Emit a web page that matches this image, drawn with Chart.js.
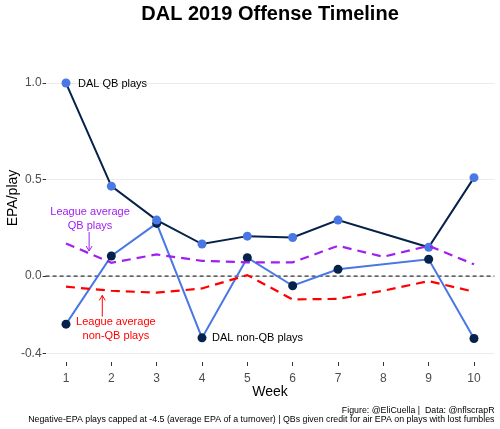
<!DOCTYPE html>
<html>
<head>
<meta charset="utf-8">
<script src="https://cdn.jsdelivr.net/npm/chart.js@4.4.1/dist/chart.umd.min.js"></script>
<style>
  html, body { margin: 0; padding: 0; background: #fff; }
</style>
</head>
<body>
<canvas id="chart" width="500" height="429"></canvas>
<script>
// weekly EPA/play, week 8 was the bye
const weeks = [1, 2, 3, 4, 5, 6, 7, 8, 9, 10];
const dalQB = [1.0, 0.466, 0.29, 0.166, 0.207, 0.20, 0.29, null, 0.149, 0.51];
const dalNonQB = [-0.249, 0.104, 0.273, -0.32, 0.095, -0.05, 0.035, null, 0.087, -0.323];
const leagueQB = [0.169, 0.069, 0.112, 0.079, 0.071, 0.071, 0.157, 0.10, 0.157, 0.061];
const leagueNonQB = [-0.055, -0.076, -0.086, -0.064, 0.005, -0.121, -0.118, -0.076, -0.026, -0.081];
const yTicks = [-0.4, 0, 0.5, 1.0];

const FONT = "'Liberation Sans', Arial, Helvetica, sans-serif";
const NAVY = '#06214a';
const BLUE = '#4a77e6';
const PURPLE = '#a020f0';
const RED = '#ff0000';

const toPoints = (vals) => weeks.map((w, i) => ({ x: w, y: vals[i] }));

function drawArrow(ctx, x, yFrom, yTo, color) {
    const dir = yTo > yFrom ? 1 : -1;
    ctx.strokeStyle = color;
    ctx.lineWidth = 1;
    ctx.beginPath();
    ctx.moveTo(x, yFrom);
    ctx.lineTo(x, yTo);
    ctx.moveTo(x - 3, yTo - dir * 5);
    ctx.lineTo(x, yTo);
    ctx.lineTo(x + 3, yTo - dir * 5);
    ctx.stroke();
}

const overlay = {
    id: 'overlay',
    beforeDatasetsDraw(chart) {
        const { ctx, chartArea, scales: { y } } = chart;
        const y0 = y.getPixelForValue(0);
        ctx.save();
        ctx.strokeStyle = '#000';
        ctx.lineWidth = 1;
        ctx.setLineDash([4, 3]);
        ctx.beginPath();
        ctx.moveTo(chartArea.left, y0);
        ctx.lineTo(chartArea.right, y0);
        ctx.stroke();
        ctx.restore();
    },
    afterDraw(chart) {
        const { ctx, chartArea, scales: { x, y } } = chart;
        ctx.save();
        ctx.textBaseline = 'middle';

        // title, centred over the panel
        ctx.fillStyle = '#000';
        ctx.font = `bold 20px ${FONT}`;
        ctx.textAlign = 'center';
        ctx.fillText('DAL 2019 Offense Timeline', (chartArea.left + chartArea.right) / 2, 14);

        // line labels
        ctx.font = `11px ${FONT}`;
        ctx.textAlign = 'left';
        ctx.fillStyle = '#000';
        ctx.fillText('DAL QB plays', x.getPixelForValue(1.265), y.getPixelForValue(0.995));
        ctx.fillText('DAL non-QB plays', x.getPixelForValue(4.22), y.getPixelForValue(-0.32));

        ctx.textAlign = 'center';
        ctx.fillStyle = PURPLE;
        ctx.fillText('League average', x.getPixelForValue(1.53), y.getPixelForValue(0.333));
        ctx.fillText('QB plays', x.getPixelForValue(1.53), y.getPixelForValue(0.259));
        drawArrow(ctx, x.getPixelForValue(1.51), y.getPixelForValue(0.228), y.getPixelForValue(0.13), PURPLE);

        ctx.fillStyle = RED;
        ctx.fillText('League average', x.getPixelForValue(2.1), y.getPixelForValue(-0.237));
        ctx.fillText('non-QB plays', x.getPixelForValue(2.1), y.getPixelForValue(-0.311));
        drawArrow(ctx, x.getPixelForValue(1.8), y.getPixelForValue(-0.21), y.getPixelForValue(-0.1), RED);

        // caption
        ctx.fillStyle = '#000';
        ctx.font = `8.8px ${FONT}`;
        ctx.textAlign = 'right';
        ctx.fillText('Figure: @EliCuella |  Data: @nflscrapR', 494.5, 410.5);
        ctx.fillText('Negative-EPA plays capped at -4.5 (average EPA of a turnover) | QBs given credit for air EPA on plays with lost fumbles', 494.5, 420);
        ctx.restore();
    }
};

const ctx = document.getElementById('chart').getContext('2d');
new Chart(ctx, {
    type: 'line',
    data: {
        datasets: [
            {
                label: 'League average QB plays',
                data: toPoints(leagueQB),
                borderColor: PURPLE,
                borderWidth: 2.2,
                borderDash: [9, 6],
                pointRadius: 0,
                tension: 0
            },
            {
                label: 'League average non-QB plays',
                data: toPoints(leagueNonQB),
                borderColor: RED,
                borderWidth: 2.2,
                borderDash: [9, 6],
                pointRadius: 0,
                tension: 0
            },
            {
                label: 'DAL QB plays',
                data: toPoints(dalQB),
                borderColor: NAVY,
                borderWidth: 2,
                pointRadius: 4.5,
                pointBackgroundColor: BLUE,
                pointBorderColor: BLUE,
                pointBorderWidth: 0,
                spanGaps: true,
                tension: 0
            },
            {
                label: 'DAL non-QB plays',
                data: toPoints(dalNonQB),
                borderColor: BLUE,
                borderWidth: 2,
                pointRadius: 4.5,
                pointBackgroundColor: NAVY,
                pointBorderColor: NAVY,
                pointBorderWidth: 0,
                spanGaps: true,
                tension: 0
            }
        ]
    },
    options: {
        responsive: false,
        animation: false,
        layout: { padding: { top: 34, right: 5.6, bottom: 0, left: 0 } },
        plugins: {
            legend: { display: false },
            tooltip: { enabled: false }
        },
        scales: {
            x: {
                type: 'linear',
                min: 0.55,
                max: 10.45,
                afterBuildTicks: (s) => { s.ticks = weeks.map(v => ({ value: v })); },
                afterFit: (s) => { s.height = 67; },
                border: { display: false },
                grid: { drawOnChartArea: false, tickLength: 4, tickColor: '#333' },
                ticks: {
                    padding: 5,
                    color: '#4d4d4d',
                    font: { family: FONT, size: 12 },
                    autoSkip: false,
                    maxRotation: 0
                },
                title: {
                    display: true,
                    text: 'Week',
                    color: '#000',
                    font: { family: FONT, size: 14 },
                    padding: { top: 0, bottom: 28.2 }
                }
            },
            y: {
                min: -0.445,
                max: 1.254,
                afterBuildTicks: (s) => { s.ticks = yTicks.map(v => ({ value: v })); },
                afterFit: (s) => { s.width = 45.6; },
                border: { display: false },
                grid: { color: '#ebebeb', lineWidth: 1, tickLength: 3, tickColor: '#333' },
                ticks: {
                    padding: 1,
                    color: '#4d4d4d',
                    font: { family: FONT, size: 12 },
                    callback: (v) => v.toFixed(1)
                },
                title: {
                    display: true,
                    text: 'EPA/play',
                    color: '#000',
                    font: { family: FONT, size: 14 },
                    padding: { top: 4.6, bottom: 0 }
                }
            }
        }
    },
    plugins: [overlay]
});
</script>
</body>
</html>
